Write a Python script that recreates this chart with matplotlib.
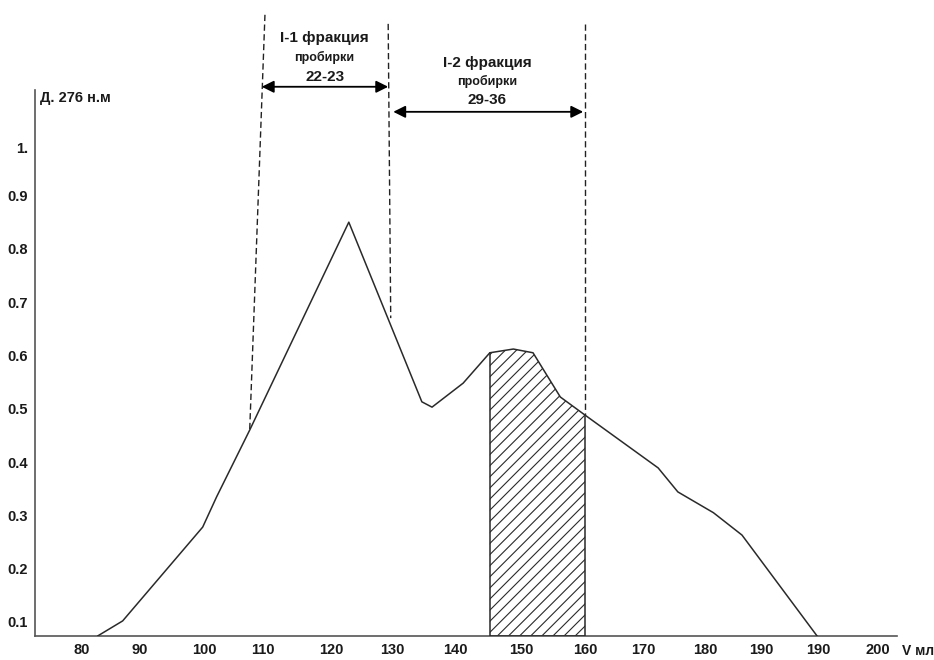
import numpy as np
import matplotlib
matplotlib.use("Agg")
import matplotlib.pyplot as plt

plt.rcParams['font.family'] = ['Liberation Sans Narrow', 'Liberation Sans', 'DejaVu Sans']
plt.rcParams['hatch.linewidth'] = 0.8

# elution curve, V (ml) vs optical density at 276 nm
volume = [83.3, 87.2, 99.8, 102.0, 107.2, 122.8, 134.3, 135.9, 140.8, 145.0,
          148.7, 151.8, 156.1, 160.0, 171.5, 174.6, 180.2, 184.7, 196.5]
density = [0.074, 0.102, 0.278, 0.335, 0.460, 0.850, 0.513, 0.503, 0.548, 0.605,
           0.612, 0.605, 0.522, 0.488, 0.389, 0.344, 0.305, 0.263, 0.074]

# x tick labels as printed in the original (positions)
xtick_pos = [80.8, 89.9, 100, 109.3, 120, 129.6, 139.5, 149.9, 160, 169.1,
             178.9, 187.7, 196.7, 206.1]
xtick_labels = ['80', '90', '100', '110', '120', '130', '140', '150', '160',
                '170', '180', '190', '190', '200']
ytick_pos = [0.1, 0.2, 0.3, 0.4, 0.5, 0.6, 0.7, 0.8, 0.9, 0.99]
ytick_labels = ['0.1', '0.2', '0.3', '0.4', '0.5', '0.6', '0.7', '0.8', '0.9', '1.']

# fraction boundaries (dashed lines): (x top, y top, x bottom, y bottom)
boundaries = [(109.6, 1.239, 107.2, 0.460),
              (129.0, 1.222, 129.4, 0.670),
              (160.0, 1.222, 160.0, 0.488)]
shade_range = (145.0, 160.0)

ymin, ymax = 0.0737, 1.248

fig = plt.figure(figsize=(9.34, 6.6), dpi=100)
ax = fig.add_axes([35 / 934, 24 / 660, 862 / 934, 626 / 660])
ax.set_xlim(73.4, 209.1)
ax.set_ylim(ymin, ymax)

line_col = '#2a2a2a'
ax.plot(volume, density, color=line_col, lw=1.1, zorder=3)

# hatched area of fraction I-2
v = np.array(volume)
d = np.array(density)
xs = np.linspace(shade_range[0], shade_range[1], 200)
ys = np.interp(xs, v, d)
ax.fill_between(xs, ymin, ys, facecolor='none', edgecolor=line_col,
                hatch='///', lw=0, zorder=2)
ax.plot([xs[0], xs[0], xs[-1], xs[-1]], [ys[0], ymin, ymin, ys[-1]],
        color=line_col, lw=1.1, zorder=3)

for xt, yt, xb, yb in boundaries:
    ax.plot([xt, xb], [yt, yb], color='#222222', lw=1.0,
            linestyle=(0, (4.5, 2.5)), zorder=2)

# arrows
arrow_kw = dict(arrowstyle='<|-|>', color='black', lw=1.3,
                mutation_scale=18, shrinkA=0, shrinkB=0)
ax.annotate('', xy=(109.1, 1.104), xytext=(129.0, 1.104), arrowprops=arrow_kw)
ax.annotate('', xy=(129.8, 1.057), xytext=(159.7, 1.057), arrowprops=arrow_kw)

tk = dict(ha='center', va='center', fontweight='bold', color='#1a1a1a')
ax.text(119.0, 1.196, 'I-1 фракция', fontsize=11, **tk)
ax.text(119.0, 1.158, 'пробирки', fontsize=9, **tk)
ax.text(119.0, 1.122, '22-23', fontsize=11, **tk)
ax.text(144.6, 1.149, 'I-2 фракция', fontsize=11, **tk)
ax.text(144.6, 1.113, 'пробирки', fontsize=9, **tk)
ax.text(144.6, 1.079, '29-36', fontsize=11, **tk)

ax.text(74.2, 1.083, 'Д. 276 н.м', fontsize=10.5, fontweight='bold',
        ha='left', va='center', color='#1a1a1a')
ax.text(209.9, 0.045, 'V мл', fontsize=10, fontweight='bold',
        ha='left', va='center', color='#1a1a1a', clip_on=False)

ax.set_xticks(xtick_pos)
ax.set_xticklabels(xtick_labels, fontsize=10.5, fontweight='bold')
ax.set_yticks(ytick_pos)
ax.set_yticklabels(ytick_labels, fontsize=10.5, fontweight='bold')
ax.tick_params(length=0, pad=5, colors='#1a1a1a')

for s in ['top', 'right']:
    ax.spines[s].set_visible(False)
ax.spines['left'].set_bounds(ymin, 1.097)
ax.spines['left'].set_color('#555555')
ax.spines['bottom'].set_color('#555555')
ax.spines['left'].set_linewidth(1.2)
ax.spines['bottom'].set_linewidth(1.2)

fig.savefig('out.png', dpi=100, facecolor='white')
